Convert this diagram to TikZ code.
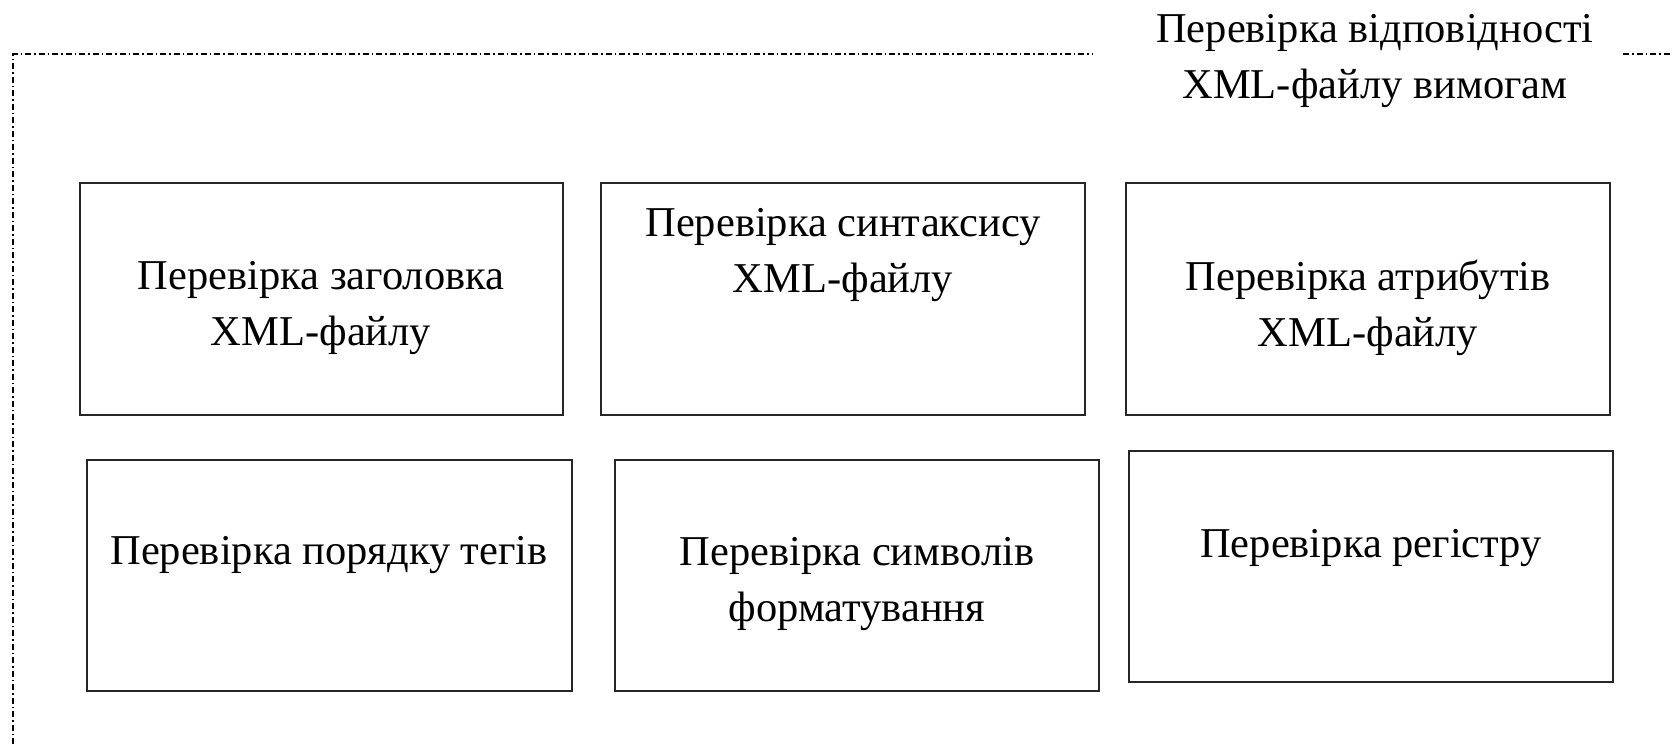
\documentclass[tikz,border=0pt]{standalone}
\usepackage{fontspec}
\setmainfont{Liberation Serif}
\begin{document}
\begin{tikzpicture}[x=1pt,y=-1pt,
  box/.style={draw=black!85,line width=1.3pt,fill=white},
  lbl/.style={align=center,font=\fontsize{42.5}{55.5}\selectfont,inner sep=0pt},
  frame/.style={line width=1.2pt,dash pattern=on 6pt off 3pt on 1.5pt off 3pt}]
\useasboundingbox (0,0) rectangle (1672,744);
% frame
\coordinate (fl) at (13,744);
\coordinate (ftl) at (13,54);
\coordinate (fm) at (1093,54);
\coordinate (fr1) at (1623,54);
\coordinate (fr2) at (1672,54);
\draw[frame] (fl) -- (ftl) -- (fm);
\draw[frame] (fr1) -- (fr2);
\node[lbl] (title) at (1375,61) {Перевірка відповідності\\XML-файлу вимогам};
% boxes
\draw[box] (80,183) rectangle (563,415);
\node[lbl] (b1) at (321,308) {Перевірка заголовка\\XML-файлу};
\draw[box] (601,183) rectangle (1085,415);
\node[lbl] (b2) at (843,255) {Перевірка синтаксису\\XML-файлу};
\draw[box] (1126,183) rectangle (1610,415);
\node[lbl] (b3) at (1368,308) {Перевірка атрибутів\\XML-файлу};
\draw[box] (87,460) rectangle (572,691);
\node[lbl] (b4) at (329,555) {Перевірка порядку тегів};
\draw[box] (615,460) rectangle (1099,691);
\node[lbl] (b5) at (857,584) {Перевірка символів\\форматування};
\draw[box] (1129,451) rectangle (1613,682);
\node[lbl] (b6) at (1371,548) {Перевірка регістру};
\end{tikzpicture}
\end{document}
